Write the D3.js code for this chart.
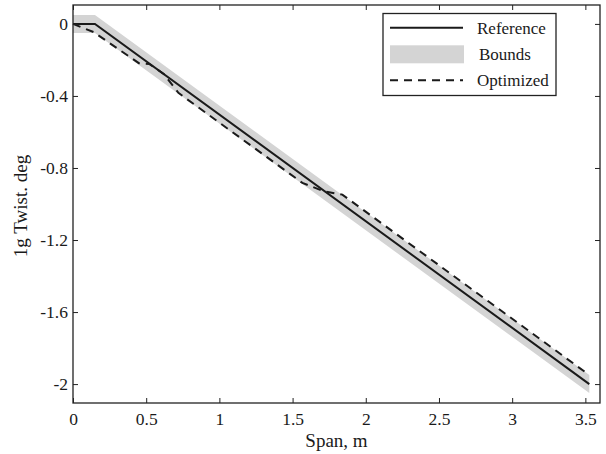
<!DOCTYPE html>
<html>
<head>
<meta charset="utf-8">
<script src="https://cdn.jsdelivr.net/npm/d3@7"></script>
<style>
  html, body { margin: 0; padding: 0; background: #fff; }
  svg { display: block; }
</style>
</head>
<body>
<svg id="chart" width="606" height="454"></svg>
<script>
// ---- data ----
const refSpan   = [0, 0.15, 3.527];
const refTwist  = [0, 0, -2.0];
const boundHalfWidth = 0.05;
const optSpan   = [0, 0.14, 0.45, 0.52, 0.62, 0.72, 1.567, 1.715, 1.84, 3.527];
const optTwist  = [0, -0.045, -0.218, -0.222, -0.278, -0.383, -0.883, -0.930, -0.948, -1.95];
const xTicks = [0, 0.5, 1, 1.5, 2, 2.5, 3, 3.5];
const yTicks = [0, -0.4, -0.8, -1.2, -1.6, -2];
const xLabel = "Span, m";
const yLabel = "1g Twist. deg";
const legendLabels = ["Reference", "Bounds", "Optimized"];

const FONT = "'Liberation Serif', 'Times New Roman', Times, 'DejaVu Serif', serif";

// ---- layout ----
const svg = d3.select("#chart");
const L = 73, R = 600, T = 5, B = 403;
const x = d3.scaleLinear().domain([0, 3.6]).range([L, R]);
const y = d3.scaleLinear().domain([-2.105, 0.105]).range([B, T]);

const refData = refSpan.map((s, i) => ({ s, v: refTwist[i] }));
const optData = optSpan.map((s, i) => ({ s, v: optTwist[i] }));

// bounds band
const area = d3.area().x(d => x(d.s)).y0(d => y(d.v - boundHalfWidth)).y1(d => y(d.v + boundHalfWidth));
svg.append("path").datum(refData).attr("d", area).attr("fill", "#d4d4d4");

const line = d3.line().x(d => x(d.s)).y(d => y(d.v));
svg.append("path").datum(refData).attr("d", line)
  .attr("fill", "none").attr("stroke", "#1a1a1a").attr("stroke-width", 2);
svg.append("path").datum(optData).attr("d", line)
  .attr("fill", "none").attr("stroke", "#1a1a1a").attr("stroke-width", 2)
  .attr("stroke-dasharray", "8,6");

function styleText(sel, size) {
  sel.style("font-family", FONT).style("font-size", size + "px").style("fill", "#1a1a1a");
}

// axes (ticks inward on all four sides)
const axB = svg.append("g").attr("transform", `translate(0,${B})`)
  .call(d3.axisBottom(x).tickValues(xTicks).tickSizeInner(-5).tickSizeOuter(0).tickPadding(10)
    .tickFormat(d => String(d)));
const axL = svg.append("g").attr("transform", `translate(${L},0)`)
  .call(d3.axisLeft(y).tickValues(yTicks).tickSizeInner(-5).tickSizeOuter(0).tickPadding(5)
    .tickFormat(d => String(d)));
const axT = svg.append("g").attr("transform", `translate(0,${T})`)
  .call(d3.axisTop(x).tickValues(xTicks).tickSizeInner(-5).tickSizeOuter(0).tickFormat(""));
const axR = svg.append("g").attr("transform", `translate(${R},0)`)
  .call(d3.axisRight(y).tickValues(yTicks).tickSizeInner(-5).tickSizeOuter(0).tickFormat(""));
[axB, axL, axT, axR].forEach(g => {
  g.attr("font-family", null).attr("font-size", null);
  g.select(".domain").remove();
  g.selectAll(".tick line").attr("stroke", "#222");
  styleText(g.selectAll("text"), 17.5);
});
svg.append("rect").attr("x", L).attr("y", T).attr("width", R - L).attr("height", B - T)
  .attr("fill", "none").attr("stroke", "#222").attr("stroke-width", 1.3);

// axis labels
styleText(svg.append("text").attr("x", (L + R) / 2).attr("y", 447).attr("text-anchor", "middle")
  .text(xLabel), 19);
styleText(svg.append("text").attr("transform", `translate(27,206) rotate(-90)`)
  .attr("text-anchor", "middle").text(yLabel), 19);

// legend
const lg = svg.append("g");
lg.append("rect").attr("x", 383).attr("y", 13.5).attr("width", 173).attr("height", 82)
  .attr("fill", "#fff").attr("stroke", "#222").attr("stroke-width", 1.3);
const ly = [27.7, 54.3, 80.3];
lg.append("line").attr("x1", 390).attr("x2", 463).attr("y1", ly[0]).attr("y2", ly[0])
  .attr("stroke", "#1a1a1a").attr("stroke-width", 2);
lg.append("rect").attr("x", 390).attr("y", ly[1] - 9).attr("width", 74).attr("height", 18)
  .attr("fill", "#d4d4d4");
lg.append("line").attr("x1", 390).attr("x2", 463).attr("y1", ly[2]).attr("y2", ly[2])
  .attr("stroke", "#1a1a1a").attr("stroke-width", 2).attr("stroke-dasharray", "8,6");
legendLabels.forEach((t, i) => {
  styleText(lg.append("text").attr("x", i === 1 ? 479 : 477).attr("y", ly[i]).attr("dy", "0.35em")
    .text(t), 17);
});
</script>
</body>
</html>
